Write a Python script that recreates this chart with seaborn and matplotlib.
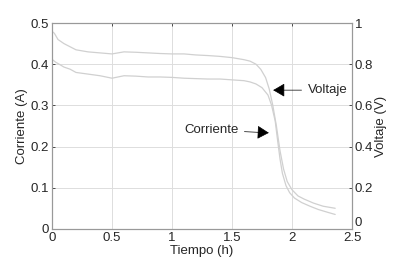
import matplotlib
matplotlib.use("Agg")
import matplotlib.pyplot as plt
import seaborn as sns

t_corr = [0.0, 0.03, 0.06, 0.1, 0.15, 0.2, 0.3, 0.4, 0.5, 0.6, 0.7, 0.8, 0.9, 1.0,
          1.1, 1.2, 1.3, 1.4, 1.5, 1.6, 1.65, 1.7, 1.75, 1.8, 1.83, 1.86, 1.88,
          1.9, 1.92, 1.95, 1.98, 2.02, 2.08, 2.15, 2.22, 2.3, 2.36]
corriente = [0.412, 0.405, 0.40, 0.393, 0.388, 0.38, 0.376, 0.372, 0.366, 0.372,
             0.371, 0.369, 0.369, 0.368, 0.366, 0.365, 0.364, 0.364, 0.362, 0.36,
             0.357, 0.352, 0.343, 0.325, 0.3, 0.262, 0.215, 0.17, 0.135, 0.105,
             0.088, 0.075, 0.064, 0.055, 0.047, 0.04, 0.035]

t_volt = [0.0, 0.02, 0.05, 0.1, 0.15, 0.2, 0.3, 0.4, 0.5, 0.6, 0.7, 0.8, 0.9, 1.0,
          1.1, 1.2, 1.3, 1.4, 1.5, 1.6, 1.65, 1.7, 1.74, 1.78, 1.81, 1.84, 1.87,
          1.9, 1.93, 1.96, 2.0, 2.05, 2.1, 2.18, 2.26, 2.36]
voltaje = [0.96, 0.95, 0.92, 0.9, 0.885, 0.87, 0.86, 0.855, 0.85, 0.86, 0.858,
           0.855, 0.852, 0.85, 0.85, 0.845, 0.842, 0.838, 0.832, 0.822, 0.815,
           0.8, 0.775, 0.735, 0.68, 0.6, 0.5, 0.38, 0.29, 0.23, 0.19, 0.16, 0.145,
           0.125, 0.11, 0.1]

sns.set_style("white")
plt.rcParams["font.family"] = ["Liberation Sans", "DejaVu Sans"]
plt.rcParams["font.size"] = 9

fig = plt.figure(figsize=(4, 2.68), dpi=100)
ax = fig.add_axes([0.13, 0.146, 0.75, 0.768])
ax2 = ax.twinx()

sns.lineplot(x=t_corr, y=corriente, ax=ax, color="#d0d0d0", lw=0.9)
sns.lineplot(x=t_volt, y=voltaje, ax=ax2, color="#d0d0d0", lw=0.9)

ax.set_xlim(0, 2.5)
ax.set_ylim(0, 0.5)
ax2.set_ylim(0, 1)
ax.set_xticks([0, 0.5, 1, 1.5, 2, 2.5])
ax.set_xticklabels(["0", "0.5", "1", "1.5", "2", "2.5"])
ax.set_yticks([0, 0.1, 0.2, 0.3, 0.4, 0.5])
ax.set_yticklabels(["0", "0.1", "0.2", "0.3", "0.4", "0.5"])
ax2.set_yticks([0, 0.2, 0.4, 0.6, 0.8, 1])
ax2.set_yticklabels(["0", "0.2", "0.4", "0.6", "0.8", "1"])
ax2.get_yticklabels()[0].set_va("bottom")
ax.grid(True, color="#dddddd", lw=0.7)

for a in (ax, ax2):
    for s in a.spines.values():
        s.set_color("#999999")
        s.set_linewidth(0.8)
    a.tick_params(direction="in", length=2, width=0.6, color="#333333",
                  labelsize=9.5, pad=2)
ax.tick_params(top=True)

ax.set_xlabel("Tiempo (h)", fontsize=9.5, labelpad=1)
ax.set_ylabel("Corriente (A)", fontsize=9.5, labelpad=2)
ax2.set_ylabel("Voltaje (V)", fontsize=9.5, labelpad=1)

arrow = dict(arrowstyle="-|>,head_length=0.6,head_width=0.35", color="black",
             lw=0.5, mutation_scale=12)
ax.annotate("Voltaje", xy=(1.82, 0.337), xytext=(2.13, 0.337), fontsize=9.5,
            va="center", ha="left", arrowprops=arrow)
ax.annotate("Corriente", xy=(1.83, 0.233), xytext=(1.1, 0.24), fontsize=9.5,
            va="center", ha="left", arrowprops=arrow)

fig.savefig("out.png", dpi=100)
